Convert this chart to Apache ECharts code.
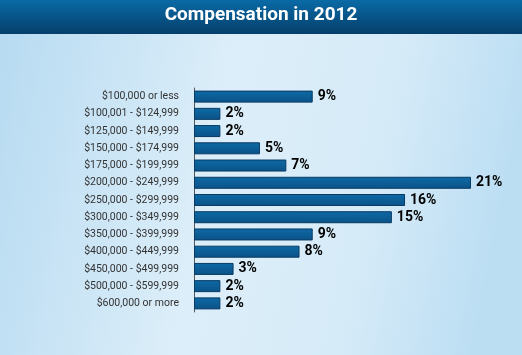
<!DOCTYPE html>
<html><head><meta charset="utf-8">
<script src="https://cdn.jsdelivr.net/npm/echarts@6/dist/echarts.min.js"></script>
<style>html,body{margin:0;padding:0;}#c{width:522px;height:355px;}</style>
</head><body><div id="c"></div>
<script>
const titleText = "Compensation in 2012";
const categories = ["$100,000 or less","$100,001 - $124,999","$125,000 - $149,999","$150,000 - $174,999","$175,000 - $199,999","$200,000 - $249,999","$250,000 - $299,999","$300,000 - $349,999","$350,000 - $399,999","$400,000 - $449,999","$450,000 - $499,999","$500,000 - $599,999","$600,000 or more"];
const values = [9,2,2,5,7,21,16,15,9,8,3,2,2];

const chart = echarts.init(document.getElementById('c'), null, {renderer:'canvas'});
chart.setOption({
  animation:false,
  backgroundColor:{type:'linear',x:0,y:0,x2:1,y2:0.3,colorStops:[
    {offset:0,color:'#b6daf1'},{offset:0.45,color:'#dceef9'},{offset:0.75,color:'#d6ebf8'},{offset:1,color:'#bcdef3'}]},
  graphic:[
    {type:'rect',left:0,top:0,shape:{width:522,height:34},z:0,
     style:{fill:{type:'linear',x:0,y:0,x2:0,y2:1,colorStops:[{offset:0,color:'#0a6aa6'},{offset:1,color:'#053f6b'}]}}},
    {type:'text',left:'center',top:6,z:1,
     style:{text:titleText,fill:'#ffffff',font:'bold 19px Roboto, "Liberation Sans", sans-serif'}}
  ],
  grid:{left:194,right:51,top:88,bottom:43,containLabel:false},
  xAxis:{type:'value',min:0,max:21,show:false},
  yAxis:{type:'category',inverse:true,data:categories,
    axisLine:{show:true,lineStyle:{color:'#555',width:1}},
    axisTick:{show:false},
    axisLabel:{margin:15,color:'#333',fontSize:10.5,fontFamily:'Roboto, sans-serif'}},
  series:[{type:'bar',data:values,barWidth:12,
    itemStyle:{color:{type:'linear',x:0,y:0,x2:0,y2:1,colorStops:[{offset:0,color:'#0e6aa5'},{offset:1,color:'#0a5288'}]},
      borderColor:'#083a63',borderWidth:1},
    label:{show:true,position:'right',distance:5,formatter:'{c}%',color:'#000',
      fontSize:14,fontWeight:'bold',fontFamily:'Roboto, sans-serif'}}]
});
</script></body></html>
